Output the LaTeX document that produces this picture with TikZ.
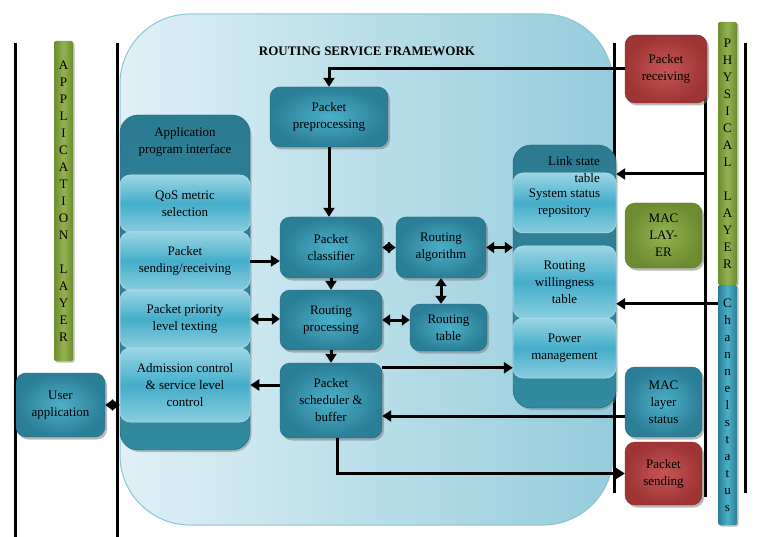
\documentclass[tikz,border=0pt]{standalone}
\usepackage{fontspec}
\setmainfont{Liberation Serif}
\usetikzlibrary{arrows.meta,shadows,calc}

\definecolor{tealin}{HTML}{4BB0C8}
\definecolor{tealout}{HTML}{2A7E96}
\definecolor{subtop}{HTML}{9AD6E4}
\definecolor{submid}{HTML}{44ADCA}
\definecolor{conttop}{HTML}{2B7B91}
\definecolor{contbot}{HTML}{318A9F}
\definecolor{redin}{HTML}{C65656}
\definecolor{redout}{HTML}{9E3434}
\definecolor{grnin}{HTML}{93B24F}
\definecolor{grnout}{HTML}{6D8C30}
\definecolor{frameL}{HTML}{DFF0F6}
\definecolor{frameR}{HTML}{95CCDB}
\definecolor{frameB}{HTML}{8AC5D6}

\begin{document}
\begin{tikzpicture}[x=1pt, y=-1pt,
    font=\fontsize{13}{17}\selectfont,
    every node/.style={align=center, inner sep=1pt},
    framebox/.style={rounded corners=70pt, left color=frameL, right color=frameR,
        draw=frameB, line width=1pt, inner sep=0pt},
    block/.style={rounded corners=10pt, inner color=tealin, outer color=tealout,
        draw=tealout!85!black, line width=0.4pt,
        drop shadow={shadow xshift=2pt, shadow yshift=-2.5pt, opacity=0.55}},
    redblock/.style={block, inner color=redin, outer color=redout, draw=redout!85!black},
    grnblock/.style={block, inner color=grnin, outer color=grnout, draw=grnout!85!black},
    cont/.style={rounded corners=18pt, top color=conttop, bottom color=contbot,
        draw=conttop!80!black, line width=0.4pt,
        drop shadow={shadow xshift=1.5pt, shadow yshift=-2pt, opacity=0.45}},
    subbox/.style={rounded corners=10pt, top color=subtop, bottom color=subtop!80!submid,
        middle color=submid, draw=subtop!70!white, line width=0.5pt},
    bar/.style={rounded corners=2pt, minimum width=19pt, inner sep=0pt,
        left color=grnout, right color=grnout, middle color=grnin,
        drop shadow={shadow xshift=1.5pt, shadow yshift=-1.5pt, opacity=0.5}},
    vline/.style={line width=3pt},
    arr/.style={line width=3pt, -{Triangle[length=9pt,width=11pt]}},
    darr/.style={line width=3pt, {Triangle[length=8pt,width=11pt]}-{Triangle[length=8pt,width=11pt]}}
]
\useasboundingbox (0,0) rectangle (765,537);

% framework background
\node[framebox, minimum width=493pt, minimum height=511pt] (frame) at (366.5,269.5) {};
\node[font=\fontsize{13}{15}\selectfont\bfseries] (title) at (367,51) {ROUTING SERVICE FRAMEWORK};

% layer borders
\draw[vline] (15,43) -- (15,537);
\draw[vline] (117,43) -- (117,537);
\draw[vline] (614,43) -- (614,493);
\draw[vline] (705,43) -- (705,497);
\draw[vline] (745,43) -- (745,493);

% application program interface
\node[cont, minimum width=130pt, minimum height=335pt] (api) at (185,282.5) {};
\node (apilbl) at (185,142) {Application\\program interface};
\node[subbox, minimum width=130pt, minimum height=57pt] (qos) at (185,203.5) {QoS metric\\selection};
\node[subbox, minimum width=130pt, minimum height=58pt] (send) at (185,261) {Packet\\sending/receiving};
\node[subbox, minimum width=130pt, minimum height=58pt] (prio) at (185,319) {Packet priority\\level texting};
\node[subbox, minimum width=130pt, minimum height=74pt] (adm) at (185,385) {Admission control\\\& service level\\control};

% link state table
\node[cont, minimum width=103pt, minimum height=263pt] (rgt) at (564.5,276.5) {};
\node[subbox, minimum width=103pt, minimum height=60pt] (sys) at (564.5,203) {System status\\repository};
\node[subbox, minimum width=103pt, minimum height=72pt] (will) at (564.5,282) {Routing\\willingness\\table};
\node[subbox, minimum width=103pt, minimum height=60pt] (pow) at (564.5,348) {Power\\management};
\node[anchor=east, align=right, inner sep=0pt] (linklbl) at (600,170) {Link state\\table};

% routing blocks
\node[block, minimum width=118pt, minimum height=60pt] (prep) at (329,117) {Packet\\preprocessing};
\node[block, minimum width=102pt, minimum height=61pt] (classif) at (331,247.5) {Packet\\classifier};
\node[block, minimum width=90pt, minimum height=61pt] (ralg) at (441,247.5) {Routing\\algorithm};
\node[block, minimum width=102pt, minimum height=60pt] (rproc) at (331,320) {Routing\\processing};
\node[block, minimum width=77pt, minimum height=47pt] (rtable) at (448.5,327.5) {Routing\\table};
\node[block, minimum width=102pt, minimum height=75pt] (sched) at (331,400.5) {Packet\\scheduler \&\\buffer};
\node[block, minimum width=89pt, minimum height=64pt] (userapp) at (60.5,405) {User\\application};

% lower layers
\node[redblock, minimum width=82pt, minimum height=68pt] (pktrecv) at (666,69) {Packet\\receiving};
\node[grnblock, minimum width=77pt, minimum height=65pt] (maclayer) at (663.5,235.5) {MAC\\LAY-\\ER};
\node[block, minimum width=77pt, minimum height=70pt] (macstat) at (663.5,402) {MAC\\layer\\status};
\node[redblock, minimum width=77pt, minimum height=63pt] (pktsend) at (663.5,473.5) {Packet\\sending};

\node[bar, minimum height=320pt] (appbar) at (63.5,201) {A\\P\\P\\L\\I\\C\\A\\T\\I\\O\\N\\[17pt]L\\A\\Y\\E\\R};
\node[bar, minimum height=263pt] (phybar) at (727.5,153.5) {P\\H\\Y\\S\\I\\C\\A\\L\\[17pt]L\\A\\Y\\E\\R};
\node[bar, minimum height=240pt, left color=tealout, right color=tealout, middle color=tealin] (chanbar) at (727.5,405) {C\\h\\a\\n\\n\\e\\l\\s\\t\\a\\t\\u\\s};

% connectors
\coordinate (s1) at ([yshift=-5pt]sched.north east);
\coordinate (ms) at ([yshift=-14pt]macstat.west);
\coordinate (sb) at ([xshift=6pt]sched.south);
\coordinate (ph) at (705,174);
\coordinate (ch) at ([yshift=-19pt]chanbar.north west);

\draw[arr] (pktrecv.west) -| (prep.north);
\draw[arr] (prep.south) -- (prep.south |- classif.north);
\draw[arr] (classif.south) -- (rproc.north);
\draw[arr] (rproc.south) -- (sched.north);
\draw[darr] (classif.east) -- (ralg.west);
\draw[darr] (ralg.east) -- (ralg.east -| rgt.west);
\draw[darr] (ralg.south) -- (ralg.south |- rtable.north);
\draw[darr] (rproc.east) -- (rproc.east -| rtable.west);
\draw[arr] (send.east) -- (send.east -| classif.west);
\draw[darr] (prio.east) -- (prio.east -| rproc.west);
\draw[arr] (adm.east -| sched.west) -- (adm.east);
\draw[arr] (s1) -- (s1 -| rgt.west);
\draw[arr] (ms) -- (ms -| sched.east);
\draw[arr] (sb) |- (pktsend.west);
\draw[arr] (ph) -- (ph -| rgt.east);
\draw[arr] (ch) -- (ch -| rgt.east);
\draw[darr] (userapp.east) -- (userapp.east -| api.west);
\end{tikzpicture}
\end{document}
